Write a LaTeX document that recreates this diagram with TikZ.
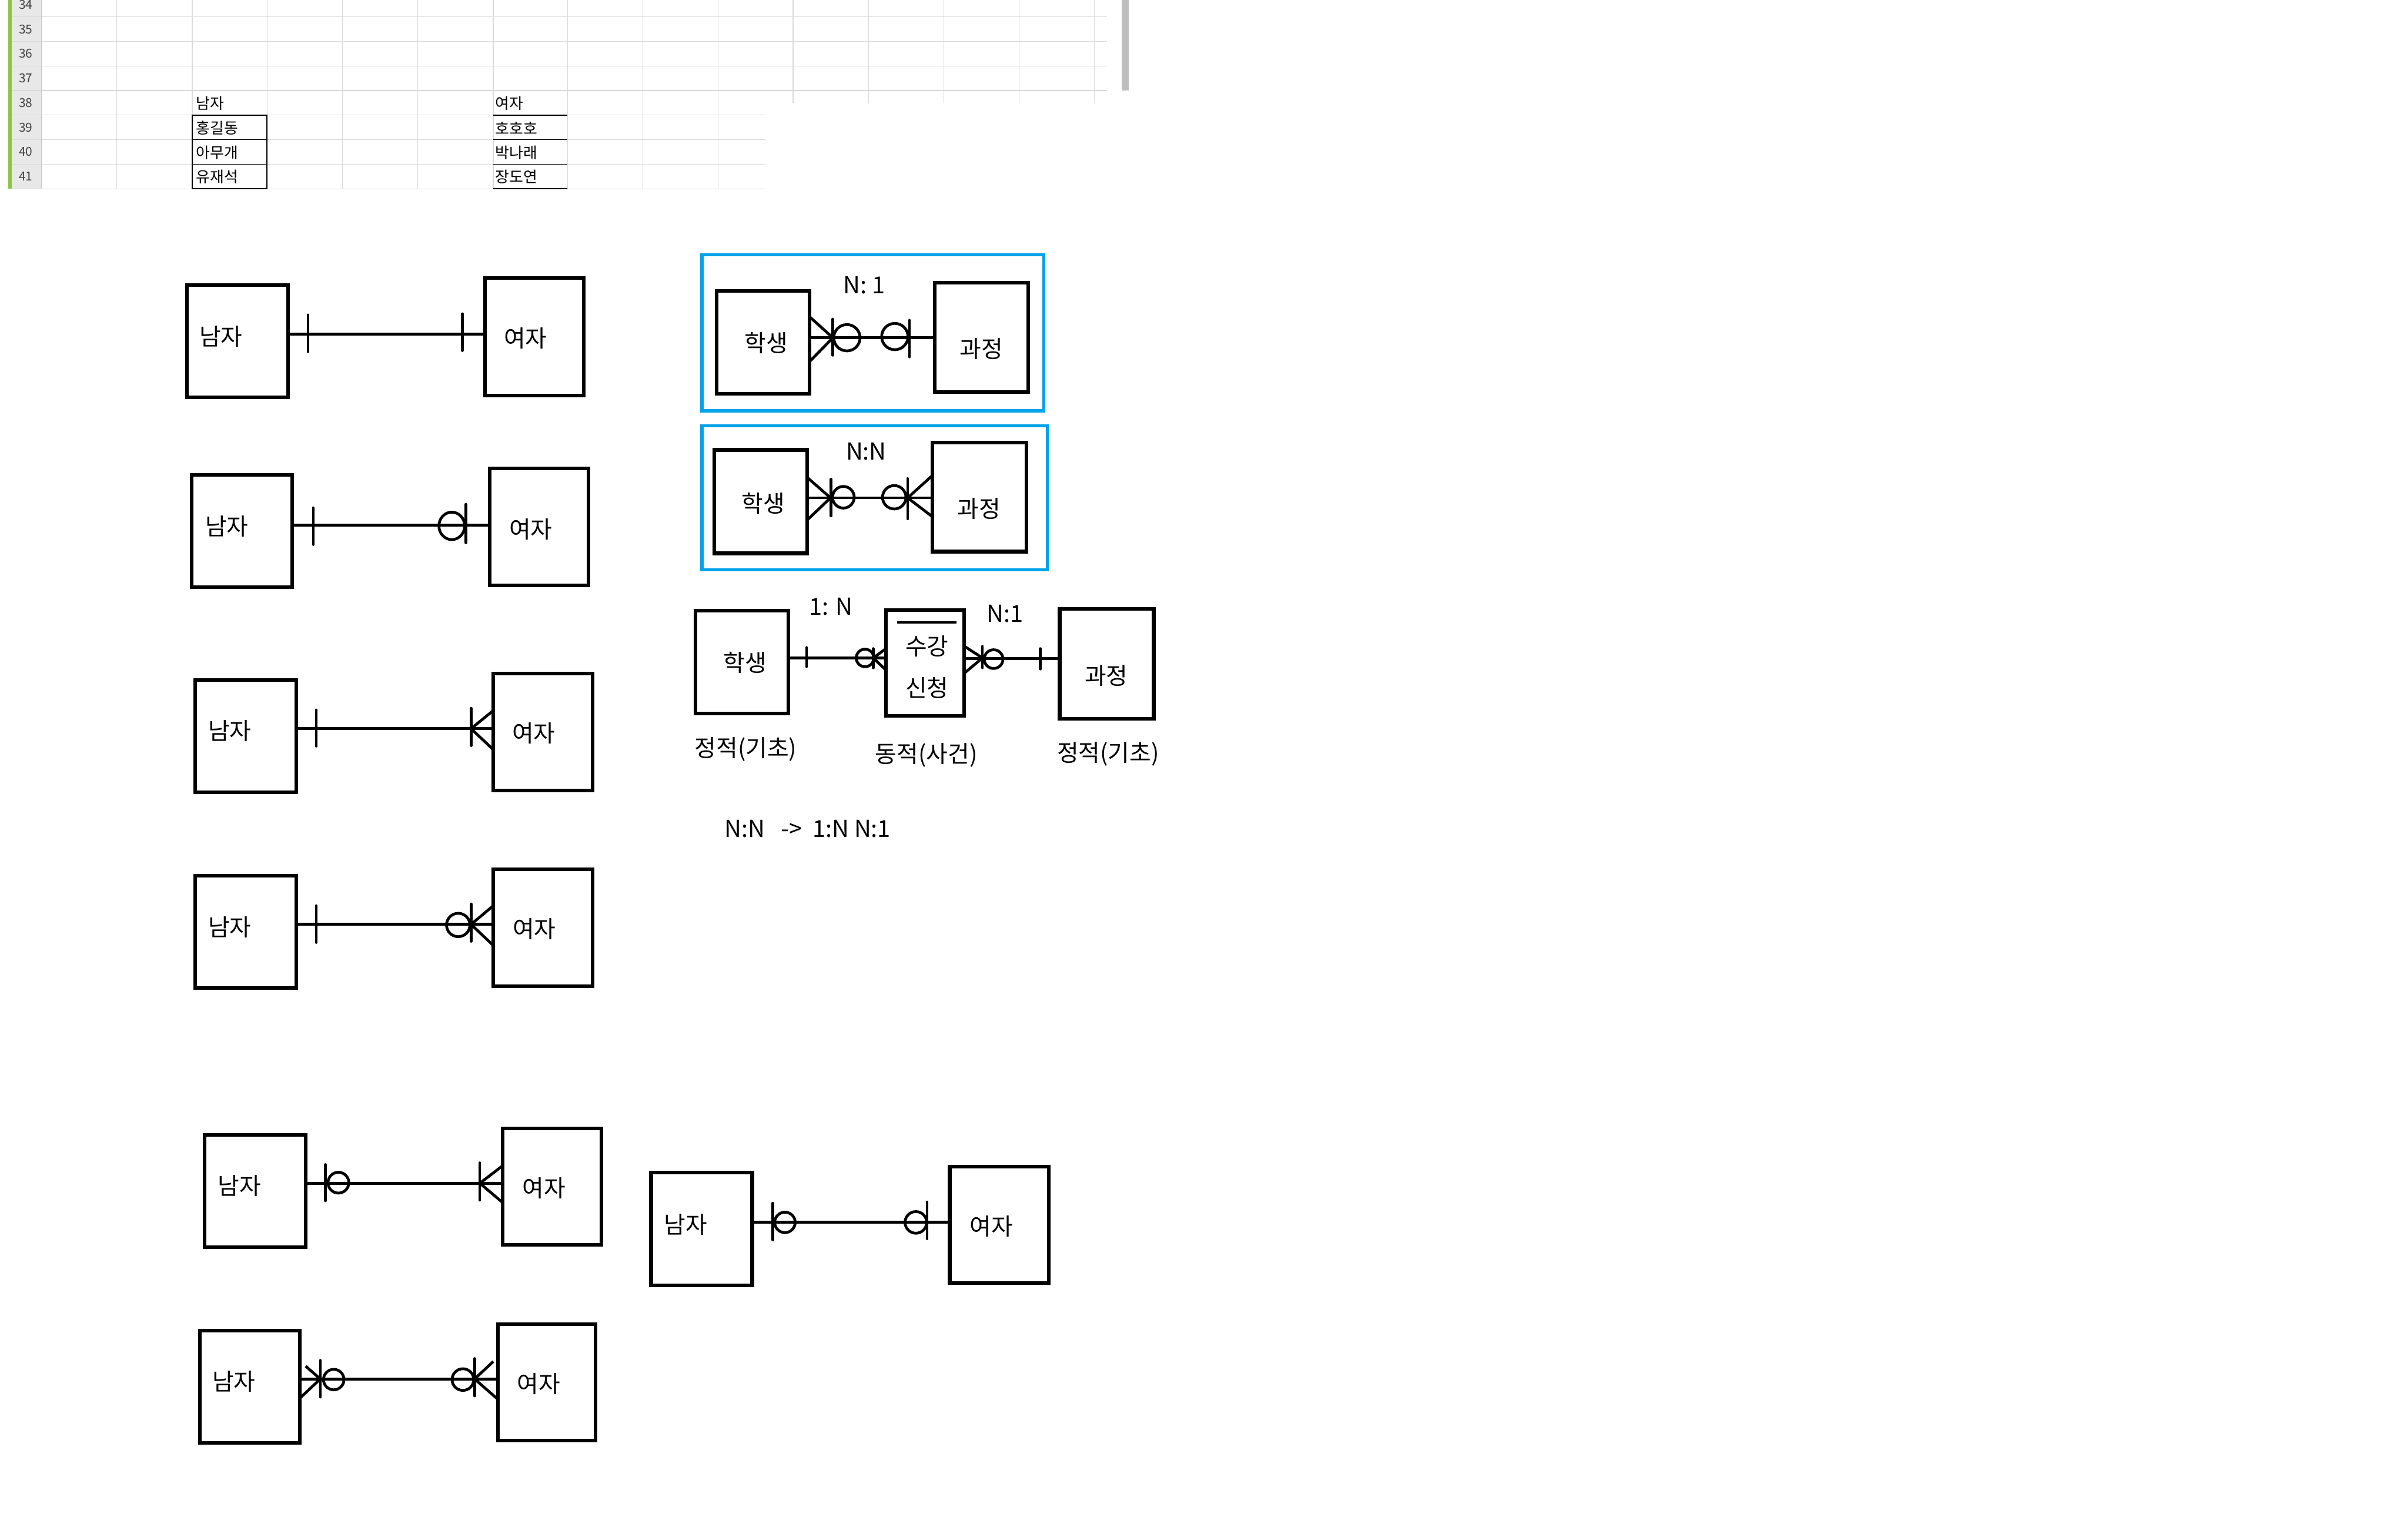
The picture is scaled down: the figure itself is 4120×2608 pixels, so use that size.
\documentclass[tikz,border=0pt]{standalone}
\usepackage{fontspec}
\setmainfont{Noto Sans CJK KR}
\definecolor{frameblue}{HTML}{00A2E8}
\definecolor{gridgray}{HTML}{DADADA}
\definecolor{hdrgray}{HTML}{E8E8E8}
\definecolor{hdrline}{HTML}{C8C8C8}
\definecolor{selgreen}{HTML}{8CC63F}
\tikzset{
  ebox/.style={draw, line width=1.75pt, inner sep=0pt, outer sep=0pt, rectangle},
  fbox/.style={draw=frameblue, line width=1.5pt, inner sep=0pt, outer sep=0pt, rectangle},
  erl/.style={line width=1.35pt},
  tk/.style={line width=1.3pt, line cap=round},
  lbl/.style={font=\fontsize{11.4pt}{13pt}\selectfont, inner sep=0pt},
  cell/.style={font=\fontsize{7.4pt}{9pt}\selectfont, inner sep=0pt, anchor=west},
  rown/.style={font=\fontsize{6pt}{7pt}\selectfont, inner sep=0pt, text=black!75},
  gridl/.style={draw=gridgray, line width=0.35pt},
  cellb/.style={draw=black, line width=0.5pt},
}
\newcommand{\erbox}[6][ebox]{%
  \node[#1, minimum width={(#5-#3-6)*0.01cm}, minimum height={(#6-#4-6)*0.01cm}] (#2) at ({(#3+#5)/2},{(#4+#6)/2}) {};}
\begin{document}
\begin{tikzpicture}[x=0.01cm, y=-0.01cm]
\useasboundingbox[fill=white] (0,0) rectangle (4120,2608);

% ---------------- spreadsheet fragment ----------------
\fill[hdrgray] (20,0) rectangle (71,323);
\fill[selgreen] (14,0) rectangle (20,323);
\foreach \yy in {29,71,113,155} \draw[gridl] (20,\yy) -- (1894,\yy);
\foreach \yy in {197,239,281,323} \draw[gridl] (20,\yy) -- (1310,\yy);
\draw[draw=hdrline, line width=0.5pt] (71,0) -- (71,323);
\foreach \xx in {200,329,457,586,715,844,971,1100,1229} \draw[gridl] (\xx,0) -- (\xx,323);
\foreach \xx in {1357,1486,1615,1744,1872} \draw[gridl] (\xx,0) -- (\xx,176);
\fill[black!25] (1919,0) rectangle (1931,155);
\foreach \n/\yy in {34/8,35/50,36/92,37/134,38/176,39/218,40/260,41/302}
  \node[rown] (r\n) at (44,\yy) {\n};
% bordered cells
\draw[cellb] (329,197) rectangle (457,323);
\draw[cellb] (329,239) -- (457,239);
\draw[cellb] (329,281) -- (457,281);
\foreach \yy in {197,239,281,323} \draw[cellb] (844,\yy) -- (971,\yy);
\node[cell] (hm) at (335,177) {남자};
\node[cell] (hm1) at (335,219) {홍길동};
\node[cell] (hm2) at (335,261) {아무개};
\node[cell] (hm3) at (335,303) {유재석};
\node[cell] (hw) at (847,177) {여자};
\node[cell] (hw1) at (847,219) {호호호};
\node[cell] (hw2) at (847,261) {박나래};
\node[cell] (hw3) at (847,303) {장도연};

% ---------------- panel 1 : 1 -- 1 ----------------
\erbox{m1}{317}{485}{496}{683}
\erbox{w1}{827}{473}{1002}{680}
\node[lbl] (m1t) at (378,576) {남자};
\node[lbl] (w1t) at (899,579) {여자};
\draw[erl] (m1.east |- 0,572) -- (w1.west |- 0,572);
\draw[tk] (527,539) -- (527,602);
\draw[tk] (791,537) -- (791,600);

% ---------------- panel 2 ----------------
\erbox{m2}{325}{810}{503}{1008}
\erbox{w2}{835}{799}{1010}{1005}
\node[lbl] (m2t) at (388,901) {남자};
\node[lbl] (w2t) at (908,906) {여자};
\draw[erl] (m2.east |- 0,899) -- (w2.west |- 0,899);
\draw[tk] (536,869) -- (536,932);
\draw[erl] (773,900) ellipse[x radius=0.22cm, y radius=0.235cm];
\draw[tk] (797,863) -- (797,929);

% ---------------- panel 3 ----------------
\erbox{m3}{331}{1161}{510}{1359}
\erbox{w3}{841}{1150}{1017}{1356}
\node[lbl] (m3t) at (393,1251) {남자};
\node[lbl] (w3t) at (913,1255) {여자};
\draw[erl] (m3.east |- 0,1247) -- (w3.west |- 0,1247);
\draw[tk] (541,1215) -- (541,1277);
\draw[tk] (806,1212) -- (806,1276);
\draw[erl] (w3.west |- 0,1216) -- (806,1247) -- (w3.west |- 0,1283);

% ---------------- panel 4 ----------------
\erbox{m4}{331}{1496}{510}{1694}
\erbox{w4}{841}{1485}{1017}{1691}
\node[lbl] (m4t) at (393,1587) {남자};
\node[lbl] (w4t) at (914,1590) {여자};
\draw[erl] (m4.east |- 0,1582) -- (w4.west |- 0,1582);
\draw[tk] (541,1550) -- (541,1613);
\draw[erl] (784,1583) circle[radius=0.2cm];
\draw[tk] (806,1547) -- (806,1611);
\draw[erl] (w4.west |- 0,1550) -- (806,1582) -- (w4.west |- 0,1618);

% ---------------- panel 5 ----------------
\erbox{m5}{347}{1939}{526}{2137}
\erbox{w5}{857}{1928}{1032}{2133}
\node[lbl] (m5t) at (410,2029) {남자};
\node[lbl] (w5t) at (931,2033) {여자};
\draw[erl] (m5.east |- 0,2025) -- (w5.west |- 0,2025);
\draw[tk] (557,1993) -- (557,2055);
\draw[erl] (579,2024) circle[radius=0.178cm];
\draw[tk] (821,1990) -- (821,2054);
\draw[erl] (w5.west |- 0,1995) -- (821,2025) -- (w5.west |- 0,2058);

% ---------------- panel 6 ----------------
\erbox{m6}{339}{2274}{516}{2472}
\erbox{w6}{849}{2263}{1022}{2468}
\node[lbl] (m6t) at (400,2364) {남자};
\node[lbl] (w6t) at (922,2368) {여자};
\draw[erl] (m6.east |- 0,2360) -- (w6.west |- 0,2360);
\draw[erl] (523,2338) -- (548,2360) -- (m6.east |- 0,2393);
\draw[tk] (548,2328) -- (548,2391);
\draw[erl] (571,2361) circle[radius=0.175cm];
\draw[erl] (792,2361) circle[radius=0.185cm];
\draw[tk] (812,2325) -- (812,2389);
\draw[erl] (844,2330) -- (812,2360) -- (851,2394);

% ---------------- panel 7 ----------------
\erbox{m7}{1111}{2004}{1290}{2203}
\erbox{w7}{1622}{1994}{1797}{2199}
\node[lbl] (m7t) at (1173,2096) {남자};
\node[lbl] (w7t) at (1696,2099) {여자};
\draw[erl] (m7.east |- 0,2092) -- (w7.west |- 0,2092);
\draw[tk] (1322,2059) -- (1322,2122);
\draw[erl] (1343,2092) circle[radius=0.175cm];
\draw[erl] (1567,2092) circle[radius=0.185cm];
\draw[tk] (1586,2057) -- (1586,2120);

% ---------------- panel N:1 ----------------
\erbox[fbox]{f1}{1198}{433}{1789}{706}
\erbox{s1}{1223}{495}{1388}{677}
\erbox{c1}{1596}{481}{1762}{674}
\node[lbl] (s1t) at (1311,587) {학생};
\node[lbl] (c1t) at (1679,597) {과정};
\node[lbl] (n1) at (1479,488) {N: 1};
\draw[erl] (s1.east |- 0,578) -- (c1.west |- 0,578);
\draw[erl] (s1.east |- 0,542) -- (1425,578) -- (s1.east |- 0,619);
\draw[tk] (1425,546) -- (1425,608);
\draw[erl] (1449,578) circle[radius=0.225cm];
\draw[erl] (1531,576) circle[radius=0.225cm];
\draw[tk] (1556,548) -- (1556,611);

% ---------------- panel N:N ----------------
\erbox[fbox]{f2}{1198}{726}{1795}{978}
\erbox{s2}{1219}{767}{1384}{950}
\erbox{c2}{1592}{754}{1759}{947}
\node[lbl] (s2t) at (1306,861) {학생};
\node[lbl] (c2t) at (1675,871) {과정};
\node[lbl] (n2) at (1482,773) {N:N};
\draw[erl] (s2.east |- 0,852) -- (c2.west |- 0,852);
\draw[erl] (s2.east |- 0,817) -- (1421,852) -- (s2.east |- 0,890);
\draw[tk] (1422,820) -- (1422,883);
\draw[erl] (1443,851) circle[radius=0.185cm];
\draw[erl] (1530,851) circle[radius=0.2cm];
\draw[tk] (1553,819) -- (1553,888);
\draw[erl] (c2.west |- 0,814) -- (1553,852) -- (c2.west |- 0,884);

% ---------------- panel 수강신청 ----------------
\erbox{s3}{1187}{1042}{1352}{1224}
\erbox{e3}{1513}{1041}{1653}{1228}
\erbox{c3}{1810}{1039}{1977}{1233}
\draw[line width=1.3pt] (1535,1065) -- (1637,1065);
\node[lbl] (s3t) at (1275,1134) {학생};
\node[lbl] (e3ta) at (1586,1106) {수강};
\node[lbl] (e3tb) at (1586,1177) {신청};
\node[lbl] (c3t) at (1893,1156) {과정};
\node[lbl] (n3) at (1422,1038) {1: N};
\node[lbl] (n4) at (1720,1050) {N:1};
\node[lbl] (k1) at (1276,1282) {정적(기초)};
\node[lbl] (k2) at (1585,1292) {동적(사건)};
\node[lbl] (k3) at (1896,1290) {정적(기초)};
\draw[erl] (s3.east |- 0,1126) -- (e3.west |- 0,1126);
\draw[erl] (e3.east |- 0,1127) -- (c3.west |- 0,1127);
\draw[tk] (1380,1108) -- (1380,1141);
\draw[erl] (1480,1126) circle[radius=0.15cm];
\draw[tk] (1494,1110) -- (1494,1143);
\draw[erl] (e3.west |- 0,1110) -- (1494,1126) -- (e3.west |- 0,1147);
\draw[erl] (e3.east |- 0,1106) -- (1681,1126) -- (e3.east |- 0,1152);
\draw[tk] (1681,1106) -- (1681,1143);
\draw[erl] (1700,1128) circle[radius=0.16cm];
\draw[tk] (1780,1110) -- (1780,1145);

\node[lbl] (nn) at (1382,1418) {N:N\ \ \ -> \ 1:N\ N:1};
\end{tikzpicture}
\end{document}
